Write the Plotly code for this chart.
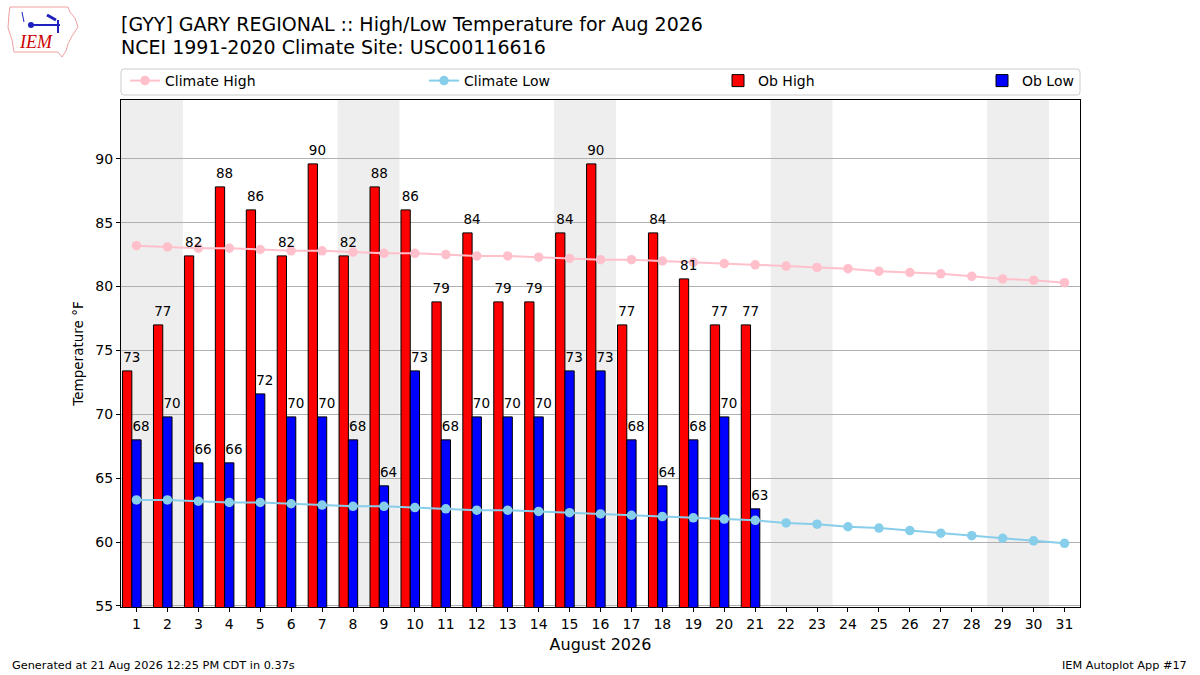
import plotly.graph_objects as go

# August 2026 daily data (degF)
days = list(range(1, 32))
ob_days = list(range(1, 22))
ob_high = [73.4, 77.0, 82.4, 87.8, 86.0, 82.4, 89.6, 82.4, 87.8, 86.0, 78.8,
           84.2, 78.8, 78.8, 84.2, 89.6, 77.0, 84.2, 80.6, 77.0, 77.0]
ob_low = [68.0, 69.8, 66.2, 66.2, 71.6, 69.8, 69.8, 68.0, 64.4, 73.4, 68.0,
          69.8, 69.8, 69.8, 73.4, 73.4, 68.0, 64.4, 68.0, 69.8, 62.6]
clim_high = [83.2, 83.1, 83.0, 83.0, 82.9, 82.8, 82.8, 82.7, 82.6, 82.6, 82.5,
             82.4, 82.4, 82.3, 82.2, 82.1, 82.1, 82.0, 81.9, 81.8, 81.7, 81.6,
             81.5, 81.4, 81.2, 81.1, 81.0, 80.8, 80.6, 80.5, 80.3]
clim_low = [63.3, 63.3, 63.2, 63.1, 63.1, 63.0, 62.9, 62.8, 62.8, 62.7, 62.6,
            62.5, 62.5, 62.4, 62.3, 62.2, 62.1, 62.0, 61.9, 61.8, 61.7, 61.5,
            61.4, 61.2, 61.1, 60.9, 60.7, 60.5, 60.3, 60.1, 59.9]
weekend_days = [1, 2, 8, 9, 15, 16, 22, 23, 29, 30]
yticks = [55, 60, 65, 70, 75, 80, 85, 90]

FONT = "DejaVu Sans"
W, H = 1200, 675
# plot box in pixels
L, R, T, B = 121, 1080, 100, 607


def px(x, y):
    """pixel position -> paper coords"""
    return (x - L) / (R - L), (B - y) / (B - T)


def pt(x, y):
    a, b = px(x, y)
    return f"{a:.5f},{b:.5f}"


fig = go.Figure()

fig.add_trace(go.Scatter(
    x=days, y=clim_high, mode="lines+markers", name="Climate High",
    line=dict(color="pink", width=2), marker=dict(color="pink", size=9.5),
    legend="legend"))
fig.add_trace(go.Scatter(
    x=days, y=clim_low, mode="lines+markers", name="Climate Low",
    line=dict(color="skyblue", width=2), marker=dict(color="skyblue", size=9.5),
    legend="legend2"))
fig.add_trace(go.Bar(
    x=ob_days, y=ob_high, name="Ob High", width=0.3, offset=-0.45,
    marker=dict(color="red", line=dict(color="black", width=1)),
    legend="legend3"))
fig.add_trace(go.Bar(
    x=ob_days, y=ob_low, name="Ob Low", width=0.3, offset=-0.15,
    marker=dict(color="blue", line=dict(color="black", width=1)),
    legend="legend4"))

# value labels above the bars
fig.add_trace(go.Scatter(
    x=[d - 0.15 for d in ob_days], y=[v + 0.45 for v in ob_high],
    text=[f"{v:.0f}" for v in ob_high], mode="text", textposition="top center",
    textfont=dict(family=FONT, size=13.5, color="black"),
    showlegend=False, hoverinfo="skip", cliponaxis=False))
fig.add_trace(go.Scatter(
    x=[d + 0.15 for d in ob_days], y=[v + 0.45 for v in ob_low],
    text=[f"{v:.0f}" for v in ob_low], mode="text", textposition="top center",
    textfont=dict(family=FONT, size=13.5, color="black"),
    showlegend=False, hoverinfo="skip", cliponaxis=False))

# weekend shading, consecutive days merged into one band
spans = []
for d in weekend_days:
    if spans and spans[-1][1] == d - 1:
        spans[-1][1] = d
    else:
        spans.append([d, d])
for d0, d1 in spans:
    fig.add_shape(type="rect", xref="x", yref="paper", x0=d0 - 0.5,
                  x1=d1 + 0.5, y0=0, y1=1, fillcolor="#eeeeee",
                  line=dict(width=0), layer="below")

# legend frame (rounded)
r = 3
x0, x1, y0, y1 = L, R, 69, 95
frame = (f"M {pt(x0 + r, y0)} L {pt(x1 - r, y0)} Q {pt(x1, y0)} {pt(x1, y0 + r)}"
         f" L {pt(x1, y1 - r)} Q {pt(x1, y1)} {pt(x1 - r, y1)}"
         f" L {pt(x0 + r, y1)} Q {pt(x0, y1)} {pt(x0, y1 - r)}"
         f" L {pt(x0, y0 + r)} Q {pt(x0, y0)} {pt(x0 + r, y0)} Z")
fig.add_shape(type="path", xref="paper", yref="paper", path=frame,
              line=dict(color="#cccccc", width=1), fillcolor="white",
              layer="below")

# rough IEM logo: state outline + station glyph
outline = [(10, 7), (68, 7), (70, 12), (75, 18), (78, 27), (72, 36),
           (68, 44), (66, 51), (62, 57), (58, 52), (14, 52), (12, 40),
           (8, 28), (9, 14)]
path = "M " + " L ".join(pt(a, b) for a, b in outline) + " Z"
fig.add_shape(type="path", xref="paper", yref="paper", path=path,
              line=dict(color="#f0a0a0", width=1))
for (a0, b0), (a1, b1), w in [((28, 25), (60, 25), 2), ((58, 20), (58, 33), 2),
                              ((47, 15), (56, 20), 3), ((22, 12), (24, 22), 1)]:
    fx0, fy0 = px(a0, b0)
    fx1, fy1 = px(a1, b1)
    fig.add_shape(type="line", xref="paper", yref="paper", x0=fx0, y0=fy0,
                  x1=fx1, y1=fy1, line=dict(color="#2020c0", width=w))
cx0, cy0 = px(28, 22)
cx1, cy1 = px(34, 28)
fig.add_shape(type="circle", xref="paper", yref="paper", x0=cx0, y0=cy0,
              x1=cx1, y1=cy1, fillcolor="#2020c0", line=dict(width=0))


def leg(x):
    return dict(xref="container", yref="container", x=x / W, y=1 - 81 / H,
                xanchor="left", yanchor="middle", bgcolor="rgba(0,0,0,0)",
                borderwidth=0, font=dict(family=FONT, size=14, color="black"),
                orientation="h")


fig.update_layout(
    width=W, height=H,
    margin=dict(l=L, r=W - R, t=T, b=H - B, autoexpand=False),
    paper_bgcolor="white", plot_bgcolor="white",
    font=dict(family=FONT, size=13, color="black"),
    barmode="overlay",
    legend=leg(125), legend2=leg(424), legend3=leg(718), legend4=leg(982),
    xaxis=dict(
        range=[0.5, 31.5], tickmode="array", tickvals=days,
        showgrid=False, zeroline=False, showline=True, linecolor="black",
        linewidth=1, mirror=True, ticks="outside", ticklen=4,
        tickcolor="black", tickfont=dict(family=FONT, size=14),
        title=dict(text="August 2026", font=dict(family=FONT, size=16),
                   standoff=8)),
    yaxis=dict(
        range=[54.92, 94.6], tickmode="array", tickvals=yticks,
        showgrid=True, gridcolor="#b0b0b0", gridwidth=1, zeroline=False,
        showline=True, linecolor="black", linewidth=1, mirror=True,
        ticks="outside", ticklen=4, tickcolor="black",
        tickfont=dict(family=FONT, size=14),
        title=dict(text="Temperature °F", font=dict(family=FONT, size=13.5),
                   standoff=8)),
)

title_lines = ["[GYY] GARY REGIONAL :: High/Low Temperature for Aug 2026",
               "NCEI 1991-2020 Climate Site: USC00116616"]
for line, yc in zip(title_lines, [24, 47]):
    tx, ty = px(119, yc)
    fig.add_annotation(text=line, xref="paper", yref="paper", x=tx, y=ty,
                       xanchor="left", yanchor="middle", showarrow=False,
                       font=dict(family=FONT, size=19, color="black"))

gx, gy = px(10, 665)
fig.add_annotation(
    text="Generated at 21 Aug 2026 12:25 PM CDT in 0.37s",
    xref="paper", yref="paper", x=gx, y=gy,
    xanchor="left", yanchor="middle", showarrow=False,
    font=dict(family=FONT, size=11.3, color="black"))
ax, ay = px(1189, 665)
fig.add_annotation(
    text="IEM Autoplot App #17",
    xref="paper", yref="paper", x=ax, y=ay,
    xanchor="right", yanchor="middle", showarrow=False,
    font=dict(family=FONT, size=11.3, color="black"))
ix, iy = px(36, 42)
fig.add_annotation(
    text="<i>IEM</i>",
    xref="paper", yref="paper", x=ix, y=iy,
    xanchor="center", yanchor="middle", showarrow=False,
    font=dict(family="Liberation Serif", size=18, color="#cc0000"))

fig.write_html("out.html", config={"displayModeBar": False},
               post_script="document.body.style.margin='0';")
